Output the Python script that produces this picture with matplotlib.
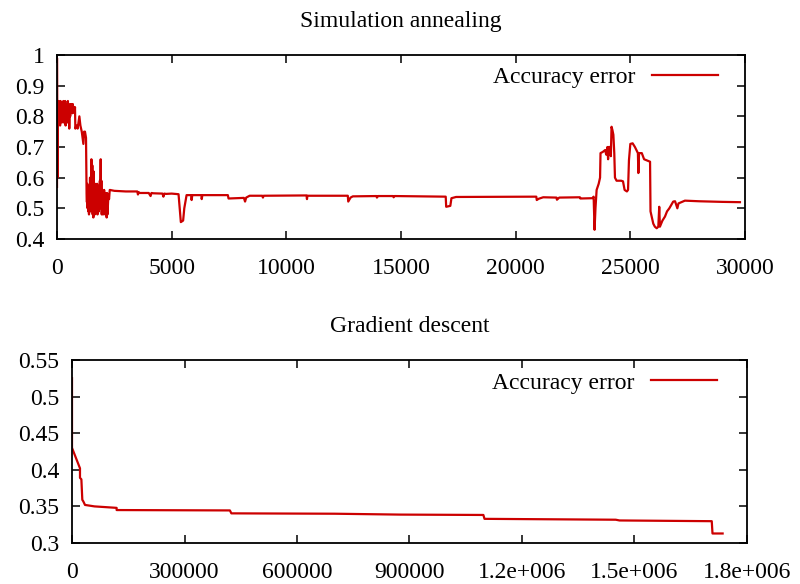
import numpy as np
import matplotlib
matplotlib.use("Agg")
import matplotlib.pyplot as plt
from matplotlib.ticker import FuncFormatter

plt.rcParams['font.family'] = ['Liberation Serif', 'DejaVu Serif']
plt.rcParams['font.size'] = 17

# =============================================================================
# Data
# =============================================================================
sa_iter = [0, 0, 15, 35, 55, 75, 95, 115, 135, 155, 175, 195, 215, 235, 255, 275,
           295, 315, 335, 355, 375, 395, 415, 435, 455, 475, 495, 515, 535, 555,
           575, 595, 615, 640, 665, 690, 715, 740, 765, 785,
           800, 850, 900, 975, 1020, 1080, 1150, 1180, 1220, 1265,
           1290, 1305, 1320, 1335, 1350, 1365, 1380, 1395, 1410, 1425, 1440, 1455,
           1470, 1485, 1500, 1520, 1540, 1555, 1570, 1585, 1600, 1615, 1630, 1645,
           1660, 1675, 1690, 1705, 1720, 1735, 1750, 1765, 1780, 1795, 1810, 1825,
           1840, 1855, 1870, 1885, 1905, 1920, 1935, 1950, 1965, 1980, 1995, 2010,
           2025, 2040, 2055, 2070, 2085, 2100, 2115, 2130, 2145, 2165, 2185, 2200,
           2240, 2270, 2300, 2500, 3000, 3500,
           3530, 3560, 3600, 4000, 4080, 4120, 4200, 4600, 4640, 4680, 4750, 5000,
           5300, 5350, 5400, 5500, 5550, 5650, 5850, 5870, 5900, 6300, 6310, 6340,
           7450, 7480, 8150, 8200, 8250, 8400, 8950, 8980, 9010, 10880, 10900, 10920,
           12680, 12700, 12800, 12900, 13930, 13950, 14000, 14650, 14680, 14720,
           16950, 16970, 17150, 17200, 17400, 20900, 20920, 21000, 21200, 21780,
           21800, 21900, 22800, 22820, 23350, 23400, 23440, 23480, 23530, 23620,
           23680, 23700, 23800, 23900, 23950, 24000, 24030, 24060, 24120, 24150,
           24180, 24220, 24260, 24300, 24330, 24400, 24600, 24680, 24750, 24850,
           24900, 24940, 25000, 25100, 25200, 25330, 25350, 25380, 25500, 25600,
           25860, 25880, 26000, 26070, 26150, 26220, 26260, 26290, 26400, 26510,
           26600, 26650, 26700, 26870, 26950, 27050, 27100, 27380, 28000, 28470,
           29000, 29780]
sa_error = [0.57, 0.99, 0.60, 0.84, 0.78, 0.85, 0.79, 0.84, 0.77, 0.85, 0.80,
            0.84, 0.78, 0.83, 0.79, 0.85, 0.78, 0.84, 0.80, 0.85, 0.77, 0.83,
            0.79, 0.84, 0.78, 0.85, 0.81, 0.84, 0.76, 0.83, 0.80, 0.84, 0.82,
            0.84, 0.81, 0.84, 0.82, 0.83, 0.81, 0.83,
            0.76, 0.77, 0.76, 0.80, 0.77, 0.75, 0.71, 0.75, 0.75, 0.73,
            0.55, 0.52, 0.58, 0.50, 0.56, 0.49, 0.57, 0.48, 0.55, 0.51, 0.60,
            0.49, 0.56, 0.52, 0.66, 0.50, 0.64, 0.48, 0.57, 0.47, 0.62, 0.49,
            0.55, 0.48, 0.58, 0.50, 0.56, 0.49, 0.54, 0.51, 0.58, 0.48, 0.55,
            0.50, 0.57, 0.49, 0.56, 0.51, 0.59, 0.52, 0.66, 0.50, 0.59, 0.48,
            0.56, 0.50, 0.55, 0.48, 0.54, 0.50, 0.56, 0.49, 0.53, 0.48, 0.55,
            0.50, 0.54, 0.47, 0.55, 0.48, 0.54, 0.53,
            0.56, 0.557, 0.555, 0.555,
            0.545, 0.553, 0.55, 0.55, 0.54, 0.55,
            0.549, 0.548, 0.538, 0.548, 0.547, 0.548, 0.546, 0.50, 0.455, 0.46, 0.50,
            0.543, 0.543, 0.527, 0.543, 0.543, 0.53, 0.543, 0.543, 0.532, 0.534,
            0.522, 0.535, 0.541, 0.541, 0.535, 0.541, 0.542, 0.53, 0.541, 0.541,
            0.522, 0.535, 0.539, 0.54, 0.535, 0.54, 0.54, 0.536, 0.54, 0.538, 0.505,
            0.508, 0.533, 0.537, 0.538, 0.527, 0.531, 0.536, 0.535, 0.528, 0.535,
            0.536, 0.532, 0.533, 0.538, 0.43, 0.50, 0.56, 0.58, 0.60, 0.68, 0.684,
            0.69, 0.675, 0.70, 0.66, 0.70, 0.70, 0.67, 0.766, 0.755, 0.74, 0.68,
            0.60, 0.59, 0.59, 0.588, 0.56, 0.555, 0.56, 0.657, 0.71, 0.712, 0.70,
            0.68, 0.615, 0.68, 0.68, 0.66, 0.652, 0.49, 0.45, 0.44, 0.435, 0.44,
            0.505, 0.44, 0.46, 0.473, 0.49, 0.495, 0.50, 0.522, 0.523, 0.50, 0.516,
            0.525, 0.523, 0.522, 0.521, 0.52]

gd_iter = [0, 0, 21300, 21300, 25000, 27500, 30000, 34700, 60000, 119000, 119000,
           421000, 425000, 700000, 875000, 1097000, 1100000, 1450000, 1460000,
           1706000, 1708000, 1735000]
gd_error = [0.525, 0.43, 0.402, 0.389, 0.387, 0.359, 0.357, 0.352, 0.350, 0.348,
            0.345, 0.3445, 0.3405, 0.340, 0.3388, 0.3383, 0.333, 0.3318, 0.3308,
            0.3298, 0.313, 0.313]

sa_xticks = [0, 5000, 10000, 15000, 20000, 25000, 30000]
sa_yticks = [0.4, 0.5, 0.6, 0.7, 0.8, 0.9, 1.0]
gd_xticks = [0, 300000, 600000, 900000, 1200000, 1500000, 1800000]
gd_yticks = [0.3, 0.35, 0.4, 0.45, 0.5, 0.55]

line_color = '#cc0000'


def gnu_fmt(v, pos=None):
    # gnuplot on windows prints %g with 3 digit exponents
    s = '%g' % v
    if 'e' in s:
        mant, exp = s.split('e')
        sign = exp[0]
        s = mant + 'e' + sign + exp[1:].zfill(3)
    return s


def style_axes(ax):
    for sp in ax.spines.values():
        sp.set_linewidth(1.3)
    ax.tick_params(direction='in', length=6, width=1.1, top=True, right=True,
                   labelsize=17)
    ax.tick_params(axis='y', pad=9)
    ax.tick_params(axis='x', pad=14)


fig = plt.figure(figsize=(8, 5.84), dpi=100)

ax1 = fig.add_axes([0.07125, 0.5908, 0.86, 0.315])
ax1.plot(sa_iter, sa_error, color=line_color, lw=1.6, label='Accuracy error')
ax1.set_xlim(0, 30000)
ax1.set_ylim(0.4, 1.0)
ax1.set_xticks(sa_xticks)
ax1.set_yticks(sa_yticks)
ax1.yaxis.set_major_formatter(FuncFormatter(gnu_fmt))
ax1.set_title('Simulation annealing', fontsize=17, pad=20)
style_axes(ax1)
ax1.legend(loc='upper right', bbox_to_anchor=(0.974, 0.99), borderaxespad=0,
           frameon=False, markerfirst=False, handlelength=2.8,
           handletextpad=0.7, fontsize=17)

ax2 = fig.add_axes([0.09, 0.0702, 0.84375, 0.3134])
ax2.plot(gd_iter, gd_error, color=line_color, lw=1.6, label='Accuracy error')
ax2.set_xlim(0, 1800000)
ax2.set_ylim(0.3, 0.55)
ax2.set_xticks(gd_xticks)
ax2.set_yticks(gd_yticks)
ax2.xaxis.set_major_formatter(FuncFormatter(gnu_fmt))
ax2.yaxis.set_major_formatter(FuncFormatter(gnu_fmt))
ax2.set_title('Gradient descent', fontsize=17, pad=20)
style_axes(ax2)
ax2.legend(loc='upper right', bbox_to_anchor=(0.970, 0.985), borderaxespad=0,
           frameon=False, markerfirst=False, handlelength=2.8,
           handletextpad=0.7, fontsize=17)

fig.savefig('out.png', dpi=100)
